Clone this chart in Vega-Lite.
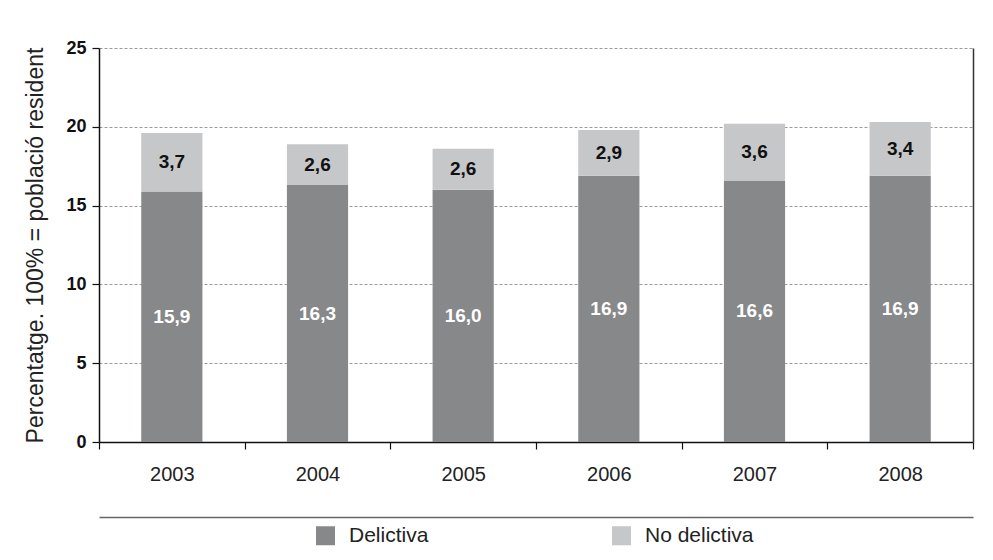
{
  "$schema": "https://vega.github.io/schema/vega-lite/v6.json",
  "width": 874,
  "height": 394,
  "autosize": {"type": "none"},
  "padding": {"left": 99, "top": 48, "right": 20, "bottom": 118},
  "background": "white",
  "config": {
    "locale": {"number": {"decimal": ",", "thousands": ".", "grouping": [3], "currency": ["", " €"]}},
    "view": {"stroke": null},
    "font": "Liberation Sans"
  },
  "data": {
    "values": [
      {"any": "2003", "tipus": "Delictiva", "ordre": 1, "valor": 15.9},
      {"any": "2003", "tipus": "No delictiva", "ordre": 2, "valor": 3.7},
      {"any": "2004", "tipus": "Delictiva", "ordre": 1, "valor": 16.3},
      {"any": "2004", "tipus": "No delictiva", "ordre": 2, "valor": 2.6},
      {"any": "2005", "tipus": "Delictiva", "ordre": 1, "valor": 16.0},
      {"any": "2005", "tipus": "No delictiva", "ordre": 2, "valor": 2.6},
      {"any": "2006", "tipus": "Delictiva", "ordre": 1, "valor": 16.9},
      {"any": "2006", "tipus": "No delictiva", "ordre": 2, "valor": 2.9},
      {"any": "2007", "tipus": "Delictiva", "ordre": 1, "valor": 16.6},
      {"any": "2007", "tipus": "No delictiva", "ordre": 2, "valor": 3.6},
      {"any": "2008", "tipus": "Delictiva", "ordre": 1, "valor": 16.9},
      {"any": "2008", "tipus": "No delictiva", "ordre": 2, "valor": 3.4}
    ]
  },
  "resolve": {"axis": {"x": "independent", "y": "independent"}},
  "layer": [
    {
      "mark": {"type": "bar", "width": {"band": 0.42}},
      "encoding": {
        "x": {
          "field": "any",
          "type": "nominal",
          "scale": {"paddingInner": 0, "paddingOuter": 0},
          "axis": {
            "title": null,
            "labelAngle": 0,
            "labelFontSize": 20,
            "labelColor": "#222222",
            "labelPadding": 15,
            "tickBand": "extent",
            "tickSize": 7,
            "tickColor": "#111111",
            "tickWidth": 1.2,
            "domainColor": "#111111",
            "domainWidth": 1.5,
            "grid": false
          }
        },
        "y": {
          "field": "valor",
          "type": "quantitative",
          "stack": "zero",
          "scale": {"domain": [0, 25], "nice": false},
          "axis": {
            "title": "Percentatge. 100% = població resident",
            "titleFontSize": 23,
            "titleFontWeight": "normal",
            "titleColor": "#222222",
            "titlePadding": 18,
            "values": [0, 5, 10, 15, 20, 25],
            "labelFontSize": 18,
            "labelFontWeight": "bold",
            "labelColor": "#111111",
            "labelPadding": 6,
            "tickSize": 7,
            "tickColor": "#111111",
            "tickWidth": 1.2,
            "domainColor": "#111111",
            "domainWidth": 1.5,
            "grid": true,
            "gridColor": "#9a9a9a",
            "gridDash": [3, 2],
            "gridWidth": 1
          }
        },
        "order": {"field": "ordre", "type": "quantitative"},
        "color": {
          "field": "tipus",
          "type": "nominal",
          "scale": {"domain": ["Delictiva", "No delictiva"], "range": ["#87888a", "#c6c7c9"]},
          "legend": {
            "title": null,
            "orient": "none",
            "legendX": 216,
            "legendY": 477,
            "direction": "horizontal",
            "symbolType": "square",
            "symbolSize": 361,
            "symbolStrokeWidth": 0,
            "labelFontSize": 21,
            "labelColor": "#222222",
            "labelOffset": 13,
            "columnPadding": 182
          }
        }
      }
    },
    {
      "mark": {"type": "text", "fontWeight": "bold", "fontSize": 19, "baseline": "middle"},
      "encoding": {
        "x": {
          "field": "any",
          "type": "nominal",
          "axis": {
            "orient": "bottom",
            "offset": 75,
            "labels": false,
            "ticks": false,
            "title": null,
            "grid": false,
            "domainColor": "#666666",
            "domainWidth": 1.5
          }
        },
        "y": {
          "field": "valor",
          "type": "quantitative",
          "stack": "zero",
          "bandPosition": 0.5,
          "axis": {
            "orient": "right",
            "labels": false,
            "ticks": false,
            "title": null,
            "grid": false,
            "domainColor": "#333333",
            "domainWidth": 1.5
          }
        },
        "detail": {"field": "tipus", "type": "nominal"},
        "order": {"field": "ordre", "type": "quantitative"},
        "text": {"field": "valor", "type": "quantitative", "format": ".1f"},
        "color": {
          "condition": {"test": "datum.tipus === 'Delictiva'", "value": "#ffffff"},
          "value": "#111111"
        }
      }
    }
  ]
}
